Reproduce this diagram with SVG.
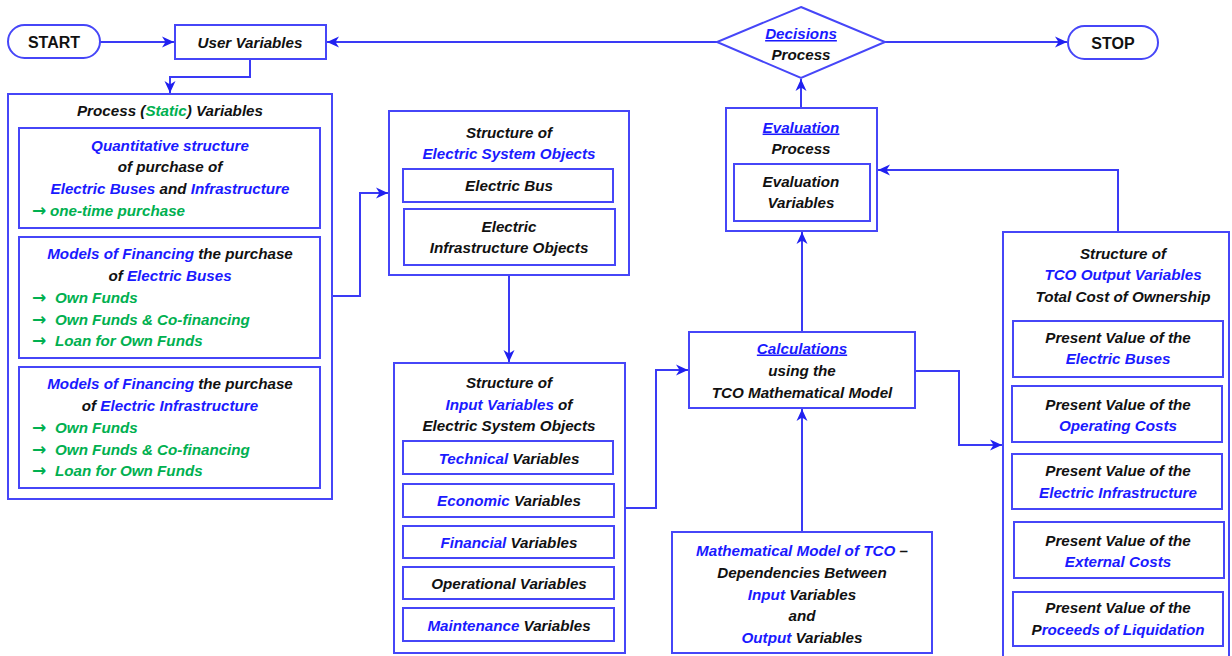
<svg xmlns="http://www.w3.org/2000/svg" width="1232" height="656" viewBox="0 0 1232 656">
<style>
.bx{fill:#fff;stroke:#4646f8;stroke-width:2}
.cn{fill:none;stroke:#3a3af5;stroke-width:2}
text{font-family:"Liberation Sans",Arial,sans-serif;font-size:15.2px;font-weight:bold;font-style:italic;fill:#111;text-anchor:middle}
.l{text-anchor:start}
.b{fill:#1a1aff}
.g{fill:#00b050}
.a{font-family:"DejaVu Sans",sans-serif;font-style:normal;font-weight:bold;font-size:17px}
.u{text-decoration:underline}
.t{font-style:normal;font-size:16px}
</style>
<defs>
<marker id="ar" viewBox="0 0 12 12" refX="12" refY="6" markerWidth="12" markerHeight="12" markerUnits="userSpaceOnUse" orient="auto">
<path d="M0,0.5 L12,6 L0,11.5 L3.5,6 z" fill="#2020f0"/>
</marker>
</defs>
<g id="connectors">
<path class="cn" d="M100,42 H174" marker-end="url(#ar)"/>
<path class="cn" d="M250,59 V77 H170 V93" marker-end="url(#ar)"/>
<path class="cn" d="M717,42 H327" marker-end="url(#ar)"/>
<path class="cn" d="M885,42 H1067" marker-end="url(#ar)"/>
<path class="cn" d="M332,296 H360 V193 H388" marker-end="url(#ar)"/>
<path class="cn" d="M509,275 V362" marker-end="url(#ar)"/>
<path class="cn" d="M625,508 H656 V370 H688" marker-end="url(#ar)"/>
<path class="cn" d="M802,532 V409" marker-end="url(#ar)"/>
<path class="cn" d="M802,332 V232" marker-end="url(#ar)"/>
<path class="cn" d="M801,108 V79" marker-end="url(#ar)"/>
<path class="cn" d="M915,371 H959 V445 H1002" marker-end="url(#ar)"/>
<path class="cn" d="M1118,232 V170 H878" marker-end="url(#ar)"/>
</g>
<g id="start">
<rect class="bx" x="8" y="25" width="92" height="33" rx="16.5"/>
<text class="t" x="54" y="48">START</text>
</g>
<g id="user-variables">
<rect class="bx" x="175" y="25" width="151" height="34"/>
<text x="250" y="47.5">User Variables</text>
</g>
<g id="decisions">
<polygon class="bx" points="801,7 885,42 801,78 717,42"/>
<text x="801" y="39"><tspan class="b u">Decisions</tspan></text>
<text x="801" y="60">Process</text>
</g>
<g id="stop">
<rect class="bx" x="1068" y="26" width="90" height="33" rx="16.5"/>
<text class="t" x="1113" y="49">STOP</text>
</g>
<g id="process-static">
<rect class="bx" x="8" y="94" width="324" height="405"/>
<text x="170" y="115.5">Process (<tspan class="g">Static</tspan>) Variables</text>
<rect class="bx" x="19" y="128" width="301" height="100"/>
<text x="170" y="150.5"><tspan class="b">Quantitative structure</tspan></text>
<text x="170" y="171.5">of purchase of</text>
<text x="170" y="193.5"><tspan class="b">Electric Buses</tspan> and <tspan class="b">Infrastructure</tspan></text>
<text class="l g" y="215.5"><tspan class="a" x="32">→</tspan><tspan x="50">one-time purchase</tspan></text>
<rect class="bx" x="19" y="237" width="301" height="121"/>
<text x="170" y="258.5"><tspan class="b">Models of Financing</tspan> the purchase</text>
<text x="170" y="280.5">of <tspan class="b">Electric Buses</tspan></text>
<text class="l g" y="302.5"><tspan class="a" x="32">→</tspan><tspan x="55">Own Funds</tspan></text>
<text class="l g" y="324.5"><tspan class="a" x="32">→</tspan><tspan x="55">Own Funds &amp; Co-financing</tspan></text>
<text class="l g" y="345.5"><tspan class="a" x="32">→</tspan><tspan x="55">Loan for Own Funds</tspan></text>
<rect class="bx" x="19" y="367" width="301" height="121"/>
<text x="170" y="388.5"><tspan class="b">Models of Financing</tspan> the purchase</text>
<text x="170" y="410.5">of <tspan class="b">Electric Infrastructure</tspan></text>
<text class="l g" y="432.5"><tspan class="a" x="32">→</tspan><tspan x="55">Own Funds</tspan></text>
<text class="l g" y="454.5"><tspan class="a" x="32">→</tspan><tspan x="55">Own Funds &amp; Co-financing</tspan></text>
<text class="l g" y="475.5"><tspan class="a" x="32">→</tspan><tspan x="55">Loan for Own Funds</tspan></text>
</g>
<g id="system-objects">
<rect class="bx" x="389" y="111" width="240" height="164"/>
<text x="509" y="137.5">Structure of</text>
<text x="509" y="158.5"><tspan class="b">Electric System Objects</tspan></text>
<rect class="bx" x="403" y="169" width="210" height="33"/>
<text x="509" y="190.5">Electric Bus</text>
<rect class="bx" x="404" y="209" width="211" height="56"/>
<text x="509" y="231.5">Electric</text>
<text x="509" y="252.5">Infrastructure Objects</text>
</g>
<g id="input-variables">
<rect class="bx" x="394" y="363" width="231" height="290"/>
<text x="509" y="387.5">Structure of</text>
<text x="509" y="409.5"><tspan class="b">Input Variables</tspan> of</text>
<text x="509" y="430.5">Electric System Objects</text>
<rect class="bx" x="403" y="441" width="210" height="33"/>
<text x="509" y="463.5"><tspan class="b">Technical</tspan> Variables</text>
<rect class="bx" x="403" y="484" width="211" height="33"/>
<text x="509" y="505.5"><tspan class="b">Economic</tspan> Variables</text>
<rect class="bx" x="403" y="526" width="211" height="32"/>
<text x="509" y="547.5"><tspan class="b">Financial</tspan> Variables</text>
<rect class="bx" x="403" y="567" width="211" height="32"/>
<text x="509" y="588.5">Operational Variables</text>
<rect class="bx" x="403" y="608" width="211" height="33"/>
<text x="509" y="631"><tspan class="b">Maintenance</tspan> Variables</text>
</g>
<g id="calculations">
<rect class="bx" x="689" y="332" width="226" height="76"/>
<text x="802" y="353.5"><tspan class="b u">Calculations</tspan></text>
<text x="802" y="375.5">using the</text>
<text x="802" y="397.5">TCO Mathematical Model</text>
</g>
<g id="math-model">
<rect class="bx" x="672" y="532" width="260" height="121"/>
<text x="802" y="555.5"><tspan class="b">Mathematical Model of TCO</tspan> –</text>
<text x="802" y="577.5">Dependencies Between</text>
<text x="802" y="599.5"><tspan class="b">Input</tspan> Variables</text>
<text x="802" y="620.5">and</text>
<text x="802" y="642.5"><tspan class="b">Output</tspan> Variables</text>
</g>
<g id="evaluation">
<rect class="bx" x="726" y="108" width="151" height="123"/>
<text x="801" y="132.5"><tspan class="b u">Evaluation</tspan></text>
<text x="801" y="153.5">Process</text>
<rect class="bx" x="734" y="164" width="136" height="57"/>
<text x="801" y="186.5">Evaluation</text>
<text x="801" y="207.5">Variables</text>
</g>
<g id="tco-output">
<rect class="bx" x="1003" y="232" width="226" height="440"/>
<text x="1123" y="258.5">Structure of</text>
<text x="1123" y="279.5"><tspan class="b">TCO Output Variables</tspan></text>
<text x="1123" y="301.5">Total Cost of Ownership</text>
<rect class="bx" x="1013" y="321" width="210" height="56"/>
<text x="1118" y="342.5">Present Value of the</text>
<text x="1118" y="363.5"><tspan class="b">Electric Buses</tspan></text>
<rect class="bx" x="1012" y="386" width="210" height="56"/>
<text x="1118" y="409.5">Present Value of the</text>
<text x="1118" y="430.5"><tspan class="b">Operating Costs</tspan></text>
<rect class="bx" x="1012" y="454" width="210" height="55"/>
<text x="1118" y="475.5">Present Value of the</text>
<text x="1118" y="497.5"><tspan class="b">Electric Infrastructure</tspan></text>
<rect class="bx" x="1014" y="522" width="210" height="56"/>
<text x="1118" y="545.5">Present Value of the</text>
<text x="1118" y="566.5"><tspan class="b">External Costs</tspan></text>
<rect class="bx" x="1013" y="592" width="210" height="54"/>
<text x="1118" y="612.5">Present Value of the</text>
<text x="1118" y="634.5">P<tspan class="b">roceeds of Liquidation</tspan></text>
</g>
</svg>
